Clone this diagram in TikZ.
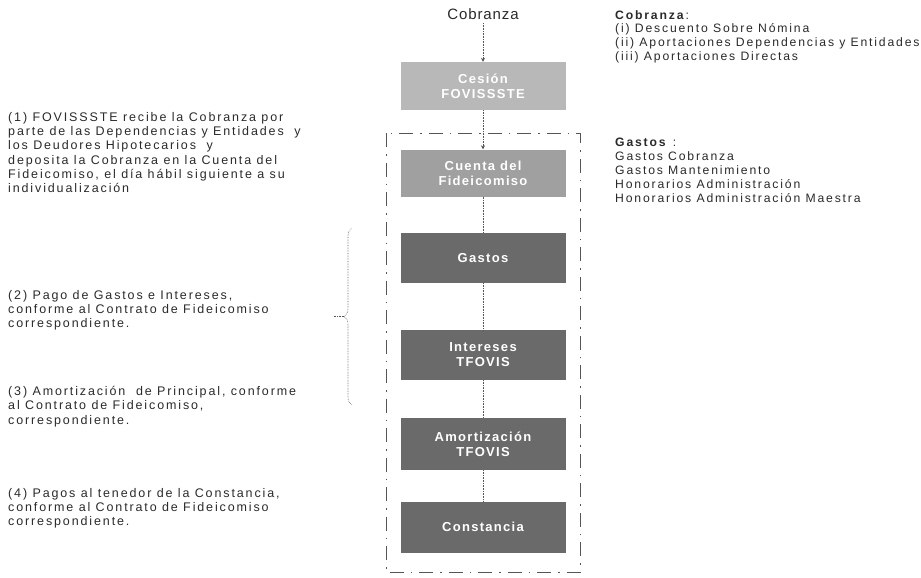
\documentclass[tikz,border=0pt]{standalone}
\usepackage{fontspec}
\setmainfont{Liberation Sans}
\usetikzlibrary{arrows.meta,decorations.pathreplacing}
\definecolor{boxA}{HTML}{B8B8B8}
\definecolor{boxB}{HTML}{A0A0A0}
\definecolor{boxC}{HTML}{6A6A6A}
\definecolor{txt}{HTML}{2A2A2A}
\definecolor{lineC}{HTML}{555555}
\newfontfamily\spacedfont[LetterSpace=15]{Liberation Sans}
\newfontfamily\boxfont[LetterSpace=10]{Liberation Sans}
\newfontfamily\titlefont[LetterSpace=6]{Liberation Sans}
\tikzset{
  flowbox/.style={draw=none, minimum width=165pt, inner sep=2pt, text=white, align=center,
     font=\boxfont\bfseries\fontsize{13}{15}\selectfont},
  sidetext/.style={anchor=north west, align=left, inner sep=0pt, text=txt,
     font=\spacedfont\fontsize{12.5}{14.3}\selectfont},
  conn/.style={draw=lineC, line width=0.6pt, densely dotted},
  connarrow/.style={conn, -{Stealth[length=4pt,width=4pt]}},
  frame/.style={draw=lineC, line width=0.9pt, dash pattern=on 14pt off 7pt on 1.5pt off 7pt}
}
\begin{document}
\begin{tikzpicture}[x=1pt,y=-1pt]
\useasboundingbox (0,0) rectangle (921,578);
% frame
\draw[frame] (386,133) rectangle (580,572);
% title
\node[text=txt, font=\titlefont\fontsize{15}{17}\selectfont] (title) at (483,14) {Cobranza};
% boxes
\node[flowbox, fill=boxA, minimum height=48pt] (b1) at (483,86) {Cesión\\FOVISSSTE};
\node[flowbox, fill=boxB, minimum height=47pt] (b2) at (483,173) {Cuenta del\\Fideicomiso};
\node[flowbox, fill=boxC, minimum height=50pt] (b3) at (483,258) {Gastos};
\node[flowbox, fill=boxC, minimum height=50pt] (b4) at (483,355) {Intereses\\TFOVIS};
\node[flowbox, fill=boxC, minimum height=52pt] (b5) at (483,444) {Amortización\\TFOVIS};
\node[flowbox, fill=boxC, minimum height=51pt] (b6) at (483,527) {Constancia};
% connectors
\draw[connarrow] (title) -- (b1);
\draw[connarrow] (b1) -- (b2);
\draw[conn] (b2) -- (b3);
\draw[conn] (b3) -- (b4);
\draw[conn] (b4) -- (b5);
\draw[conn] (b5) -- (b6);
% brace
\coordinate (braceBot) at (352,405);
\coordinate (braceTop) at (352,228);
\coordinate (braceTip) at (344,316.5);
\coordinate (braceEnd) at (334,316.5);
\draw[conn, decorate, decoration={brace, amplitude=8pt}] (braceBot) -- (braceTop);
\draw[conn] (braceTip) -- (braceEnd);
% left texts
\node[sidetext] (t1) at (8,112) {(1) FOVISSSTE recibe la Cobranza por\\parte de las Dependencias y Entidades \ y\\los Deudores Hipotecarios \ y\\deposita la Cobranza en la Cuenta del\\Fideicomiso, el día hábil siguiente a su\\individualización};
\node[sidetext] (t2) at (8,290) {(2) Pago de Gastos e Intereses,\\conforme al Contrato de Fideicomiso\\correspondiente.};
\node[sidetext] (t3) at (8,386) {(3) Amortización \ de Principal, conforme\\al Contrato de Fideicomiso,\\correspondiente.};
\node[sidetext] (t4) at (8,488) {(4) Pagos al tenedor de la Constancia,\\conforme al Contrato de Fideicomiso\\correspondiente.};
% right texts
\node[sidetext, font=\spacedfont\fontsize{12.2}{13.7}\selectfont] (r1) at (615,10) {\textbf{Cobranza}:\\(i) Descuento Sobre Nómina\\(ii) Aportaciones Dependencias y Entidades\\(iii) Aportaciones Directas};
\node[sidetext, font=\spacedfont\fontsize{12.2}{14}\selectfont] (r2) at (615,138) {\textbf{Gastos} :\\Gastos Cobranza\\Gastos Mantenimiento\\Honorarios Administración\\Honorarios Administración Maestra};
\end{tikzpicture}
\end{document}
